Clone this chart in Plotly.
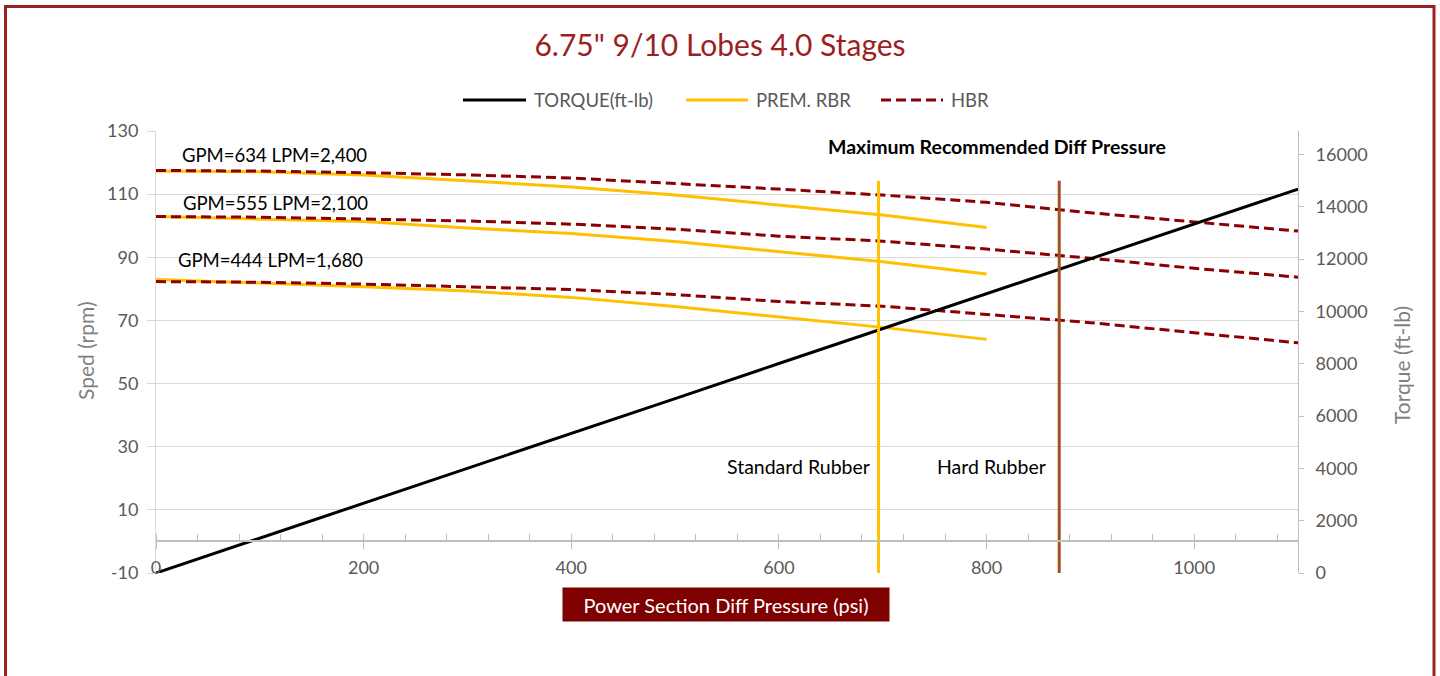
import plotly.graph_objects as go

# ---------------- data ----------------
pressure_prem = [0, 100, 200, 300, 400, 500, 600, 700, 800]
pressure_hbr = [0, 100, 200, 300, 400, 500, 600, 700, 800, 900, 1000, 1100]

prem_634 = [117.3, 117.1, 116.1, 114.3, 112.3, 109.7, 106.6, 103.4, 99.4]
hbr_634 = [117.5, 117.3, 116.8, 116.1, 115.1, 113.4, 111.6, 109.7, 107.4, 104.1, 101.2, 98.3]
prem_555 = [102.9, 102.2, 101.3, 99.3, 97.5, 95.0, 91.8, 88.6, 84.7]
hbr_555 = [102.9, 102.7, 102.1, 101.5, 100.5, 98.9, 96.7, 95.1, 92.6, 89.7, 86.5, 83.7]
prem_444 = [83.0, 81.9, 80.7, 79.3, 77.3, 74.4, 71.2, 67.8, 64.0]
hbr_444 = [82.3, 82.1, 81.5, 80.7, 79.8, 78.2, 76.0, 74.5, 72.0, 69.3, 66.1, 62.9]

torque = [0, 1330, 2670, 4000, 5340, 6670, 8010, 9340, 10680, 12010, 13350, 14680]

std_limit_x = [696, 696]
hard_limit_x = [870, 870]
limit_torque = [0, 15000]

flow_labels = ["GPM=634 LPM=2,400", "GPM=555 LPM=2,100", "GPM=444 LPM=1,680"]
legend_names = ["TORQUE(ft-lb)", "PREM. RBR", "HBR"]

speed_tickvals = [-10, 10, 30, 50, 70, 90, 110, 130]
speed_ticktext = ["-10", "10", "30", "50", "70", "90", "110", "130"]

# ---------------- styles ----------------
FONT = "Lato"
YELLOW = "#FFC000"
DARKRED = "#8B0000"
BROWN = "#A0521E"
GRAY_TXT = "#595959"
GRID = "#D9D9D9"
AXIS = "#BFBFBF"
HBR_DASH = "10px,5px"

fig = go.Figure()

# PREM. RBR (solid yellow)
for ys in [prem_634, prem_555, prem_444]:
    fig.add_trace(go.Scatter(
        x=pressure_prem, y=ys, mode="lines", name=legend_names[1], showlegend=False,
        line=dict(color=YELLOW, width=3), xaxis="x", yaxis="y"))

# HBR (dashed dark red)
for ys in [hbr_634, hbr_555, hbr_444]:
    fig.add_trace(go.Scatter(
        x=pressure_hbr, y=ys, mode="lines", name=legend_names[2], showlegend=False,
        line=dict(color=DARKRED, width=3, dash=HBR_DASH), xaxis="x", yaxis="y"))

# Torque (secondary axis)
fig.add_trace(go.Scatter(
    x=pressure_hbr, y=torque, mode="lines", name=legend_names[0], showlegend=False,
    line=dict(color="black", width=3), xaxis="x", yaxis="y2"))

# Max recommended diff pressure lines
fig.add_trace(go.Scatter(x=std_limit_x, y=limit_torque, mode="lines", showlegend=False,
                         line=dict(color=YELLOW, width=3), xaxis="x", yaxis="y2"))
fig.add_trace(go.Scatter(x=hard_limit_x, y=limit_torque, mode="lines", showlegend=False,
                         line=dict(color=BROWN, width=3), xaxis="x", yaxis="y2"))

# ---------------- layout ----------------
L, R, T, B = 156, 142, 131, 103
W, H = 1440, 676
PW, PH = W - L - R, H - T - B


def px(xpix):
    return (xpix - L) / PW


def py(ypix):
    return (H - B - ypix) / PH


tickfont = dict(family=FONT, size=18, color=GRAY_TXT)

fig.update_layout(
    width=W, height=H,
    margin=dict(l=L, r=R, t=T, b=B),
    paper_bgcolor="white", plot_bgcolor="white",
    font=dict(family=FONT),
    showlegend=False,
    title=dict(text='6.75" 9/10 Lobes 4.0 Stages', x=0.5, xref="container", xanchor="center",
               y=1 - 45 / H, yref="container", yanchor="middle",
               font=dict(family=FONT, size=30, color="#9C1F24")),
    xaxis=dict(range=[0, 1100], dtick=200, showgrid=False, zeroline=False,
               anchor="free", position=10 / 140,
               showline=True, linecolor=AXIS, linewidth=2,
               ticks="outside", ticklen=7, tickcolor=AXIS, tickwidth=1,
               ticklabelstandoff=3, tickfont=tickfont,
               minor=dict(ticks="inside", dtick=40, ticklen=6, tickcolor=AXIS, showgrid=False)),
    yaxis=dict(range=[-10, 130], tickmode="array", tickvals=speed_tickvals,
               ticktext=speed_ticktext, showgrid=True, gridcolor=GRID, gridwidth=1,
               showline=True, linecolor=GRID, ticks="outside", ticklen=8, tickcolor=GRID,
               ticklabelstandoff=5, zeroline=False, tickfont=tickfont),
    yaxis2=dict(range=[0, 16900], dtick=2000, tickformat="d", overlaying="y", side="right",
                showgrid=False, showline=True, linecolor=AXIS, ticks="outside", ticklen=5,
                tickcolor=AXIS, ticklabelstandoff=8, zeroline=False, tickfont=tickfont),
)

annotations = []
for lab, xc, yc in zip(flow_labels, [274.4, 275.0, 270.3], [155, 203.3, 260]):
    annotations.append(dict(text=lab, x=px(xc), y=py(yc), font_size=18.5))
annotations += [
    dict(text="<b>Maximum Recommended Diff Pressure</b>", x=px(997.3), y=py(146.7), font_size=19.5),
    dict(text="Standard Rubber", x=px(798.5), y=py(466.5), font_size=19.5),
    dict(text="Hard Rubber", x=px(991.7), y=py(466.5), font_size=19.5),
]
for a in annotations:
    a.update(xref="paper", yref="paper", xanchor="center", yanchor="middle", showarrow=False,
             font=dict(family=FONT, size=a.pop("font_size"), color="black"))

annotations += [
    dict(text="Sped (rpm)", x=px(85), y=py(351), xref="paper", yref="paper", textangle=-90,
         xanchor="center", yanchor="middle", showarrow=False,
         font=dict(family=FONT, size=21, color="#7F7F7F")),
    dict(text="Torque (ft-lb)", x=px(1401), y=py(365), xref="paper", yref="paper", textangle=-90,
         xanchor="center", yanchor="middle", showarrow=False,
         font=dict(family=FONT, size=21, color="#7F7F7F")),
    dict(text="Power Section Diff Pressure (psi)", x=px(726), y=py(604.5), xref="paper",
         yref="paper", xanchor="center", yanchor="middle", showarrow=False,
         bgcolor="#7F0000", borderpad=2, width=322, height=29,
         font=dict(family=FONT, size=20, color="white")),
]

# manual legend (sample lines + labels)
legend_y = py(100)
legend_items = [
    (463, 526, 532, "black", "solid"),
    (686, 748, 754, YELLOW, "solid"),
    (881, 943, 949, DARKRED, HBR_DASH),
]
for name, (lx0, lx1, tx, col, dash) in zip(legend_names, legend_items):
    fig.add_shape(type="line", xref="paper", yref="paper", x0=px(lx0), x1=px(lx1),
                  y0=legend_y, y1=legend_y, line=dict(color=col, width=3, dash=dash))
    annotations.append(dict(text=name, x=px(tx), y=legend_y, xref="paper", yref="paper",
                            xanchor="left", yanchor="middle", showarrow=False,
                            font=dict(family=FONT, size=18.5, color=GRAY_TXT)))

fig.update_layout(annotations=annotations)

# outer chart border
fig.add_shape(type="rect", xref="paper", yref="paper",
              x0=px(5.5), x1=px(1434), y0=py(720), y1=py(6.5),
              line=dict(color="#9C1F24", width=3), fillcolor="rgba(0,0,0,0)", layer="below")

fig.write_html("out.html", config={"displayModeBar": False},
               post_script="document.body.style.margin='0';")
